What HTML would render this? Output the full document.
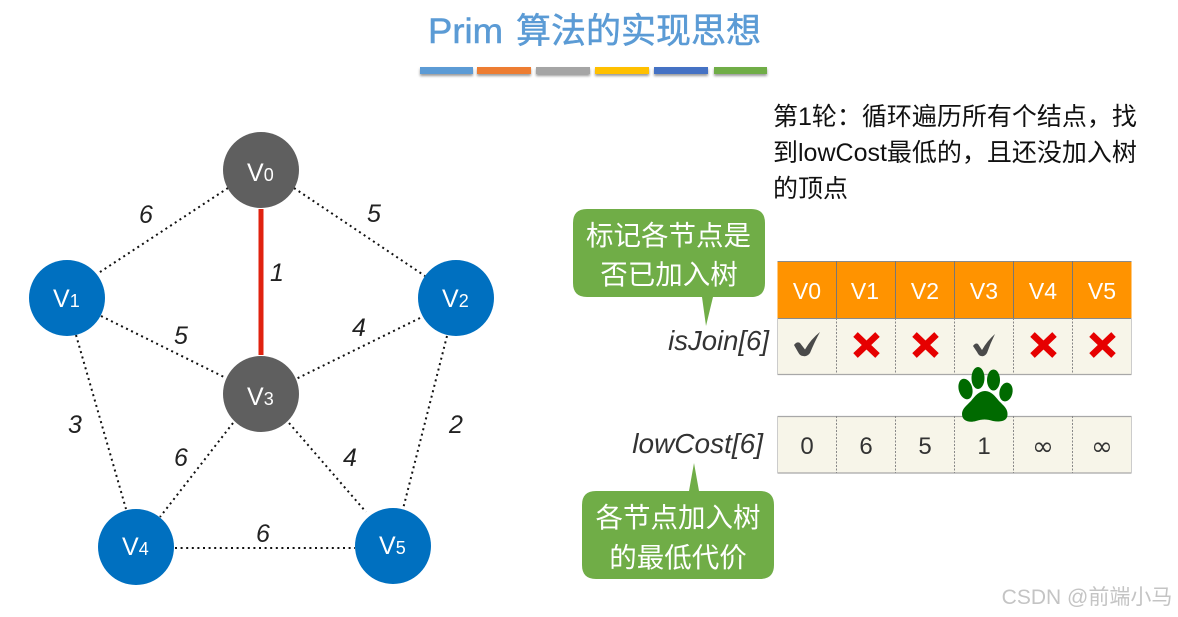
<!DOCTYPE html>
<html><head><meta charset="utf-8">
<style>
html,body{margin:0;padding:0;background:#fff;width:1178px;height:617px;overflow:hidden}
svg{display:block}
text{font-family:"Liberation Sans","Noto Sans CJK SC",sans-serif}
</style></head><body>
<svg width="1178" height="617" viewBox="0 0 1178 617" xmlns="http://www.w3.org/2000/svg">
<defs><filter id="s" x="-10%" y="-50%" width="120%" height="250%"><feDropShadow dx="0" dy="2" stdDeviation="1.2" flood-color="#000" flood-opacity=".4"/></filter></defs>
<rect width="1178" height="617" fill="#fff"/>
<g fill="#5b9bd5" stroke="#5b9bd5" stroke-width=".5">
<text x="428" y="43" font-size="35" textLength="75" lengthAdjust="spacingAndGlyphs">Prim</text>
<text x="516" y="43" font-size="35">算法的实现思想</text>
</g>
<g filter="url(#s)">
<rect x="420" y="67" width="53" height="7" fill="#5b9bd5"/>
<rect x="477" y="67" width="54" height="7" fill="#ed7d31"/>
<rect x="536" y="67" width="54" height="7" fill="#a5a5a5"/>
<rect x="595" y="67" width="54" height="7" fill="#ffc000"/>
<rect x="654" y="67" width="54" height="7" fill="#4472c4"/>
<rect x="714" y="67" width="53" height="7" fill="#70ad47"/>
</g>
<g stroke="#111" stroke-width="2" stroke-dasharray="2 3.6" fill="none">
<line x1="228" y1="188" x2="97" y2="274"/>
<line x1="294" y1="188" x2="425" y2="276"/>
<line x1="101" y1="316" x2="226" y2="378"/>
<line x1="420" y1="318" x2="296" y2="379"/>
<line x1="76" y1="335" x2="126" y2="509"/>
<line x1="447" y1="336" x2="403" y2="509"/>
<line x1="233" y1="423" x2="160" y2="517"/>
<line x1="289" y1="423" x2="366" y2="512"/>
<line x1="175" y1="548" x2="355" y2="548"/>
</g>
<line x1="261" y1="209" x2="261" y2="355" stroke="#e0220f" stroke-width="5"/>
<circle cx="261" cy="170" r="38" fill="#5f5f5f"/>
<circle cx="261" cy="394" r="38" fill="#5f5f5f"/>
<circle cx="67" cy="298" r="38" fill="#0070c0"/>
<circle cx="456" cy="298" r="38" fill="#0070c0"/>
<circle cx="136" cy="547" r="38" fill="#0070c0"/>
<circle cx="393" cy="546" r="38" fill="#0070c0"/>
<g fill="#fff" font-size="25">
<text x="247" y="181">V<tspan font-size="18">0</tspan></text>
<text x="247" y="405">V<tspan font-size="18">3</tspan></text>
<text x="53" y="307">V<tspan font-size="18">1</tspan></text>
<text x="442" y="307">V<tspan font-size="18">2</tspan></text>
<text x="122" y="555">V<tspan font-size="18">4</tspan></text>
<text x="379" y="554">V<tspan font-size="18">5</tspan></text>
</g>
<g font-size="25" font-style="italic" fill="#222" text-anchor="middle">
<text x="146" y="223">6</text>
<text x="374" y="222">5</text>
<text x="277" y="281">1</text>
<text x="181" y="344">5</text>
<text x="359" y="336">4</text>
<text x="75" y="433">3</text>
<text x="456" y="433">2</text>
<text x="181" y="466">6</text>
<text x="350" y="466">4</text>
<text x="263" y="542">6</text>
</g>
<g font-size="25" fill="#111">
<text x="773" y="125">第1轮：循环遍历所有个结点，找</text>
<text x="773" y="161">到lowCost最低的，且还没加入树</text>
<text x="773" y="197">的顶点</text>
</g>
<!-- callouts -->
<path d="M587 209H751Q765 209 765 223V283Q765 297 751 297H713L706 326L702 297H587Q573 297 573 283V223Q573 209 587 209Z" fill="#70ad47"/>
<text x="668.500" y="245" font-size="27.500" fill="#fff" text-anchor="middle">标记各节点是</text>
<text x="669" y="284" font-size="27.500" fill="#fff" text-anchor="middle">否已加入树</text>
<path d="M596 491H689L694 463L699 491H760Q774 491 774 505V565Q774 579 760 579H596Q582 579 582 565V505Q582 491 596 491Z" fill="#70ad47"/>
<text x="678" y="527" font-size="27.500" fill="#fff" text-anchor="middle">各节点加入树</text>
<text x="678" y="567" font-size="27.500" fill="#fff" text-anchor="middle">的最低代价</text>
<text x="769" y="350" font-size="27.500" font-style="italic" fill="#333" text-anchor="end">isJoin[6]</text>
<text x="763" y="453" font-size="28" font-style="italic" fill="#333" text-anchor="end">lowCost[6]</text>
<!-- tables -->
<rect x="777.5" y="261.5" width="354" height="57" fill="#ff9300"/>
<rect x="777.5" y="318.5" width="354" height="56" fill="#f7f5e9"/>
<rect x="777.5" y="416.5" width="354" height="56.500" fill="#f7f5e9"/>
<g fill="none">
<path d="M777.500 261.500H1131.500M777.500 318.500H1131.500" stroke="#8a8a8a"/>
<path d="M836.500 261V318M895.500 261V318M954.500 261V318M1013.500 261V318M1072.500 261V318" stroke="#777"/>
<path d="M777.500 374.500H1131.500M777.500 416.500H1131.500M777.500 473H1131.500" stroke="#a8a8a8" stroke-width="1.300"/>
<path d="M777.500 318V375M1131.500 318V375M777.500 416V473M1131.500 416V473" stroke="#ccc"/>
<path d="M836.500 318V374M895.500 318V374M954.500 318V374M1013.500 318V374M1072.500 318V374M836.500 416V473M895.500 416V473M954.500 416V473M1013.500 416V473M1072.500 416V473" stroke="#888" stroke-dasharray="2 1.500"/>
</g>
<g font-size="23" fill="#fff" text-anchor="middle">
<text x="807" y="299">V0</text><text x="865" y="299">V1</text><text x="925" y="299">V2</text><text x="984" y="299">V3</text><text x="1043" y="299">V4</text><text x="1102" y="299">V5</text>
</g>
<g fill="#4a4a4a">
<path d="M794 345Q797 341 800 343L805 349.500Q811 339 820 332Q815 341 810 353Q807 357 803 356Q800 356 798 352Z"/>
<path d="M973 346Q975.500 342.500 978 344L982 350Q987 341 995 334Q990.500 343 987 353Q984.500 357 981 356Q979 356 977 352Z"/>
</g>
<g stroke="#e60000" stroke-width="6.500" fill="none">
<path d="M855.500 334.500L877.500 355.500M877.500 334.500L855.500 355.500"/>
<path d="M914.500 334.500L936.500 355.500M936.500 334.500L914.500 355.500"/>
<path d="M1032.500 334.500L1054.500 355.500M1054.500 334.500L1032.500 355.500"/>
<path d="M1091.500 334.500L1113.500 355.500M1113.500 334.500L1091.500 355.500"/>
</g>
<g font-size="24" fill="#333" text-anchor="middle">
<text x="807" y="454">0</text><text x="866" y="454">6</text><text x="925" y="454">5</text><text x="984" y="454">1</text>
<text x="1043" y="455" style="font-family:'DejaVu Sans',sans-serif;font-size:26px">∞</text><text x="1102" y="455" style="font-family:'DejaVu Sans',sans-serif;font-size:26px">∞</text>
</g>
<!-- paw -->
<g fill="#006a00">
<ellipse cx="965.500" cy="389" rx="6.800" ry="10.500" transform="rotate(-15 965.500 389)"/>
<ellipse cx="978" cy="378" rx="6.500" ry="11"/>
<ellipse cx="993.500" cy="380" rx="6.500" ry="10.500"/>
<ellipse cx="1006" cy="392" rx="6.500" ry="9.500" transform="rotate(12 1006 392)"/>
<path d="M985 391C991 391 995 396 999 401C1004 406 1008 409 1007.500 415C1007 422 999 422 993 421C987 419 982 419 976 421C969 423 962 421 962 414C962 409 966 406 971 401C975 396 979 391 985 391Z"/>
</g>
<text x="1087" y="604" font-size="21" fill="#c4c4c4" text-anchor="middle">CSDN @前端小马</text>
</svg>
</body></html>
